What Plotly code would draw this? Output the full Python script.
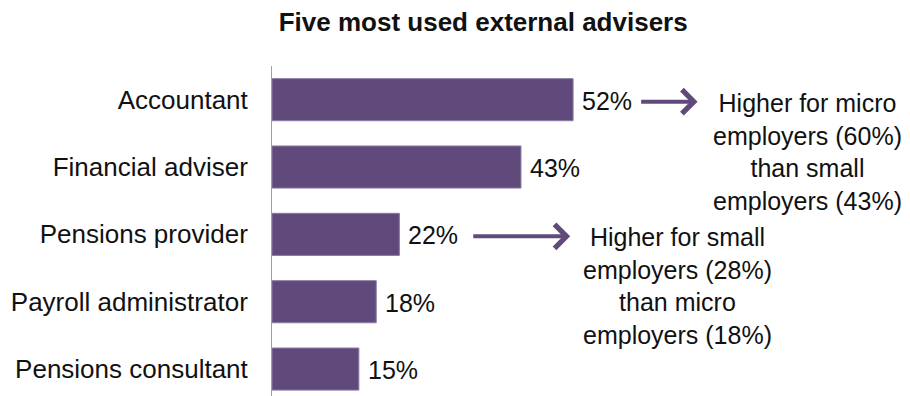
import plotly.graph_objects as go

# Share of employers using each external adviser (%)
advisers = ["Accountant", "Financial adviser", "Pensions provider",
            "Payroll administrator", "Pensions consultant"]
usage_pct = [52, 43, 22, 18, 15]

chart_title = "Five most used external advisers"
note_micro = "Higher for micro<br>employers (60%)<br>than small<br>employers (43%)"
note_small = "Higher for small<br>employers (28%)<br>than micro<br>employers (18%)"

PURPLE = "#604A7B"
FONT = "Liberation Sans, Arial, sans-serif"
FS = 25

fig = go.Figure(
    go.Bar(
        x=usage_pct,
        y=advisers,
        orientation="h",
        width=0.625,
        marker=dict(color=PURPLE, line=dict(color="#8B7BA3", width=1)),
        hoverinfo="skip",
    )
)

# value labels just past the end of each bar
for name, val in zip(advisers, usage_pct):
    fig.add_annotation(
        x=val, y=name, xref="x", yref="y",
        text=f"{val}%", showarrow=False,
        xanchor="left", yanchor="middle", xshift=7, yshift=-1,
        font=dict(family=FONT, size=FS, color="#111111"),
    )

# arrows pointing from the labels to the notes
arrow_rows = [(advisers[0], 63.5, 73.5), (advisers[2], 34.5, 51.5)]
for row, x0, x1 in arrow_rows:
    fig.add_annotation(
        x=x1, y=row, ax=x0, ay=row,
        xref="x", yref="y", axref="x", ayref="y",
        text="", showarrow=True,
        arrowhead=4, arrowsize=1.15, arrowwidth=4, arrowcolor=PURPLE,
        yshift=-2,
    )

# explanatory notes
for txt, x, y in [(note_micro, 92.4, 0.77), (note_small, 70.0, 2.77)]:
    fig.add_annotation(
        x=x, y=y, xref="x", yref="y",
        text=txt, showarrow=False, align="center",
        xanchor="center", yanchor="middle",
        font=dict(family=FONT, size=FS, color="#111111"),
    )

fig.update_layout(
    width=910, height=396,
    margin=dict(l=272, r=59, t=66, b=0),
    paper_bgcolor="white", plot_bgcolor="white",
    showlegend=False,
    title=dict(
        text=f"<b>{chart_title}</b>",
        xref="container", x=0.531, xanchor="center",
        yref="container", y=0.944, yanchor="middle",
        font=dict(family=FONT, size=26, color="#111111"),
    ),
    font=dict(family=FONT, size=FS, color="#111111"),
)

fig.update_xaxes(range=[0, 100], visible=False, fixedrange=True)
fig.update_yaxes(
    categoryorder="array", categoryarray=advisers,
    range=[4.4, -0.5],
    showline=True, linecolor="#A0A0A0", linewidth=1,
    showgrid=False, zeroline=False, ticks="",
    ticklabelstandoff=18,
    tickfont=dict(family=FONT, size=26, color="#111111"),
    fixedrange=True,
)

fig.write_html("out.html")
